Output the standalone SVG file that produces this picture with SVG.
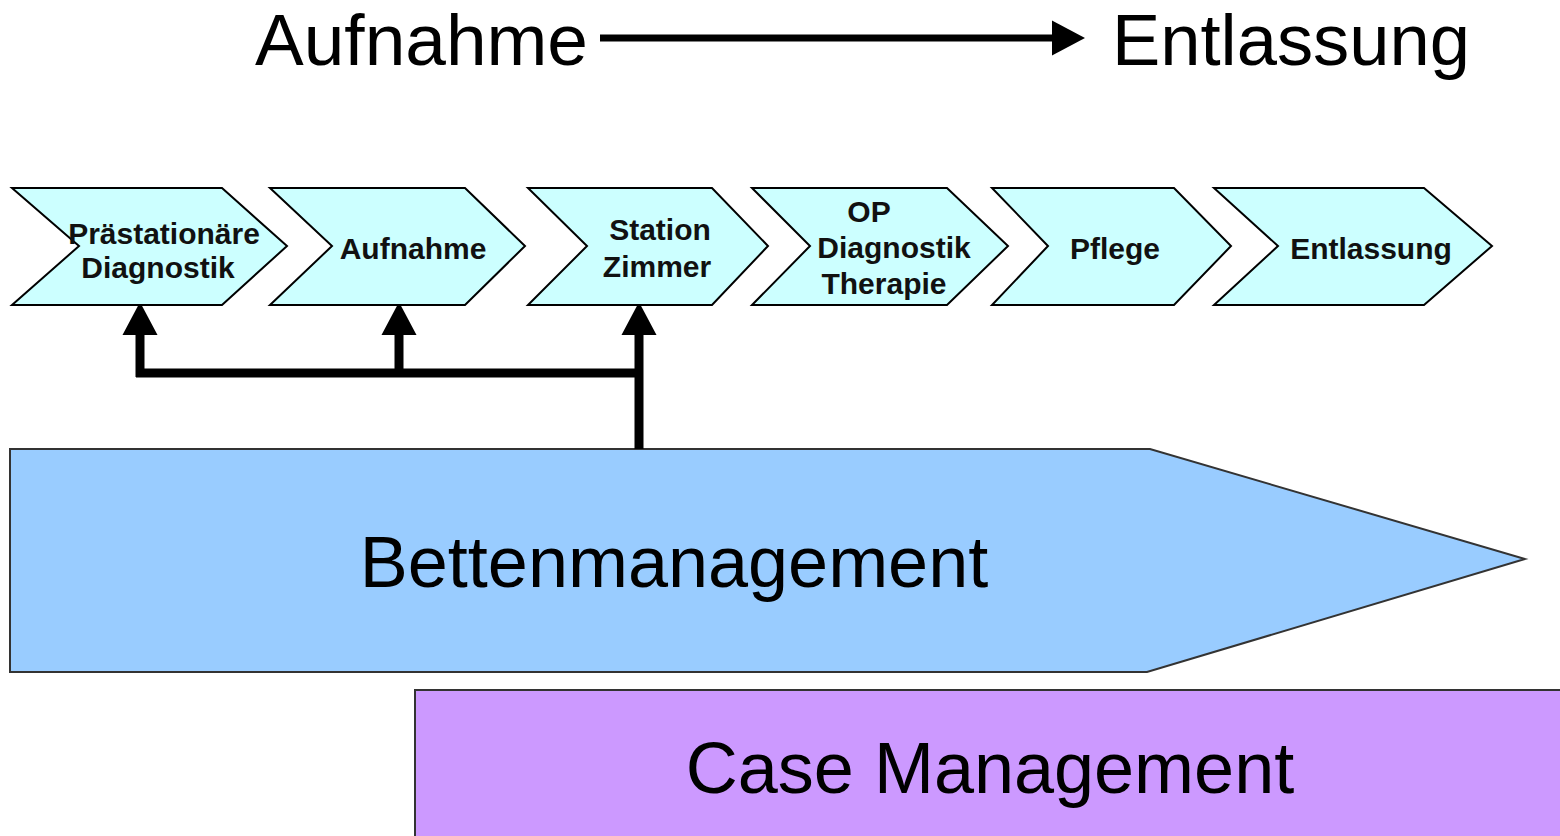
<svg xmlns="http://www.w3.org/2000/svg" width="1560" height="836" viewBox="0 0 1560 836">
<style>
.chev{fill:#CCFFFF;stroke:#000;stroke-width:2;stroke-linejoin:miter}
.ct{font-family:"Liberation Sans",Arial,sans-serif;font-weight:bold;font-size:30px;fill:#111;text-anchor:middle}
.big{font-family:"Liberation Sans",Arial,sans-serif;font-size:72px;fill:#000}
.conn{fill:none;stroke:#000;stroke-width:9}
</style>
<defs>
<marker id="ah" markerUnits="userSpaceOnUse" markerWidth="40" markerHeight="40" refX="0" refY="0" orient="auto" overflow="visible">
<path d="M0,-17.5 L33,0 L0,17.5 Z" fill="#000"/>
</marker>
</defs>
<rect width="1560" height="836" fill="#fff"/>
<g id="title">
<text class="big" x="255" y="65" textLength="333" lengthAdjust="spacingAndGlyphs">Aufnahme</text>
<text class="big" x="1112" y="65" textLength="358" lengthAdjust="spacingAndGlyphs">Entlassung</text>
<path d="M600,38 H1052" stroke="#000" stroke-width="7" fill="none" marker-end="url(#ah)"/>
</g>
<g id="case-management">
<rect x="415" y="690" width="1160" height="160" fill="#CC99FF" stroke="#333" stroke-width="2"/>
<text class="big" x="990" y="793" text-anchor="middle">Case Management</text>
</g>
<g id="bettenmanagement">
<polygon points="10,449 1150,449 1525,559 1147,672 10,672" fill="#99CCFF" stroke="#333" stroke-width="2"/>
<text class="big" x="674" y="587" text-anchor="middle">Bettenmanagement</text>
</g>
<g id="connectors">
<path class="conn" d="M136,373 H643"/>
<path class="conn" d="M140,377 V335" marker-end="url(#ah)"/>
<path class="conn" d="M399,373 V335" marker-end="url(#ah)"/>
<path class="conn" d="M639,449 V335" marker-end="url(#ah)"/>
</g>
<g id="n1">
<polygon class="chev" points="12,188 222,188 287,246 222,305 12,305 79,246"/>
<text class="ct" x="164" y="244">Prästationäre</text>
<text class="ct" x="158" y="278">Diagnostik</text>
</g>
<g id="n2">
<polygon class="chev" points="270,188 465,188 525,246 465,305 270,305 332,246"/>
<text class="ct" x="413" y="259">Aufnahme</text>
</g>
<g id="n3">
<polygon class="chev" points="528,188 712,188 768,246 712,305 528,305 587,246"/>
<text class="ct" x="660" y="240">Station</text>
<text class="ct" x="657" y="277">Zimmer</text>
</g>
<g id="n4">
<polygon class="chev" points="752,188 947,188 1008,246 947,305 752,305 810,246"/>
<text class="ct" x="869" y="222">OP</text>
<text class="ct" x="894" y="258">Diagnostik</text>
<text class="ct" x="884" y="294">Therapie</text>
</g>
<g id="n5">
<polygon class="chev" points="992,188 1174,188 1231,246 1174,305 992,305 1048,246"/>
<text class="ct" x="1115" y="259">Pflege</text>
</g>
<g id="n6">
<polygon class="chev" points="1214,188 1424,188 1492,246 1424,305 1214,305 1278,246"/>
<text class="ct" x="1371" y="259">Entlassung</text>
</g>
</svg>
